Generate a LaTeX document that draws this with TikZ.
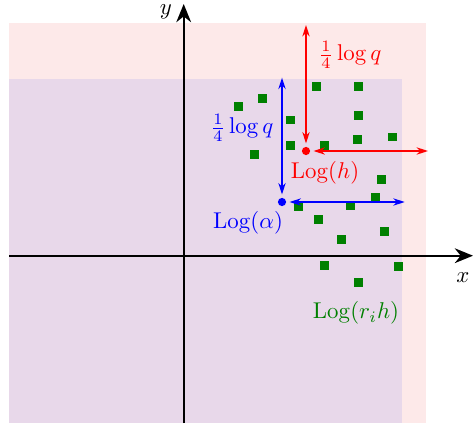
\documentclass[tikz,border=0pt]{standalone}
\usetikzlibrary{arrows.meta}
\definecolor{pinkbg}{RGB}{253,233,233}
\definecolor{purplebg}{RGB}{232,216,234}
\definecolor{dgreen}{RGB}{0,128,0}
\begin{document}
\begin{tikzpicture}[x=0.438pt,y=-0.438pt,
  sq/.style={fill=dgreen, minimum size=3.7pt, inner sep=0pt},
  dot/.style={circle,fill,inner sep=0pt,minimum size=3.6pt},
  dbl/.style={{Stealth[length=5pt,width=3.2pt]}-{Stealth[length=5pt,width=3.2pt]}, line width=0.65pt},
  axis/.style={thick,-{Stealth[length=8pt,width=6.5pt]}}]
\useasboundingbox (0,0) rectangle (473,427);
\fill[pinkbg] (9,23) rectangle (426,423);
\fill[purplebg] (9,79) rectangle (402,423);
% axes
\coordinate (xs) at (9,255.7);
\coordinate (xe) at (473,255.7);
\coordinate (ys) at (183.7,423);
\coordinate (ye) at (183.7,4);
\draw[axis] (xs) -- (xe);
\draw[axis] (ys) -- (ye);
\node[inner sep=0pt] (xl) at (463,277.5) {$x$};
\node[inner sep=0pt] (yl) at (166,11.5) {$y$};
% green points
\foreach \px/\py [count=\i] in {316.3/86.3, 358.3/86.3, 262.3/98.3, 238.3/106.3, 290.3/120, 358.3/115.3,
  290.3/145.3, 324.3/145.3, 357.3/139.3, 392.3/137, 254.3/154.3, 381.3/179.3, 375.3/197.3,
  298.3/206.3, 350.3/205.7, 318.3/219.3, 384.3/231.3, 341.3/239.3, 324.3/265.3, 398.3/266.3, 358.3/282.3}
  \node[sq] (g\i) at (\px,\py) {};
% dots
\node[dot,blue] (a) at (282,202) {};
\node[dot,red] (h) at (306,151) {};
% blue arrows
\coordinate (bv) at (282,77.7);
\coordinate (bh) at (404.7,202);
\draw[dbl,blue] (bv) -- ([yshift=1.3pt]a.north);
\draw[dbl,blue] ([xshift=1.3pt]a.east) -- (bh);
% red arrows
\coordinate (rv) at (306,25);
\coordinate (rh) at (428,151);
\draw[dbl,red] (rv) -- ([yshift=1.3pt]h.north);
\draw[dbl,red] ([xshift=1.3pt]h.east) -- (rh);
% labels
\node[blue] (lq1) at (242,128) {$\frac{1}{4}\log q$};
\node[red] (lq2) at (350,55) {$\frac{1}{4}\log q$};
\node[red] (lh) at (325,173) {$\mathrm{Log}(h)$};
\node[blue] (la) at (248,223) {$\mathrm{Log}(\alpha)$};
\node[dgreen] (lr) at (356,313) {$\mathrm{Log}(r_i h)$};
\end{tikzpicture}
\end{document}
